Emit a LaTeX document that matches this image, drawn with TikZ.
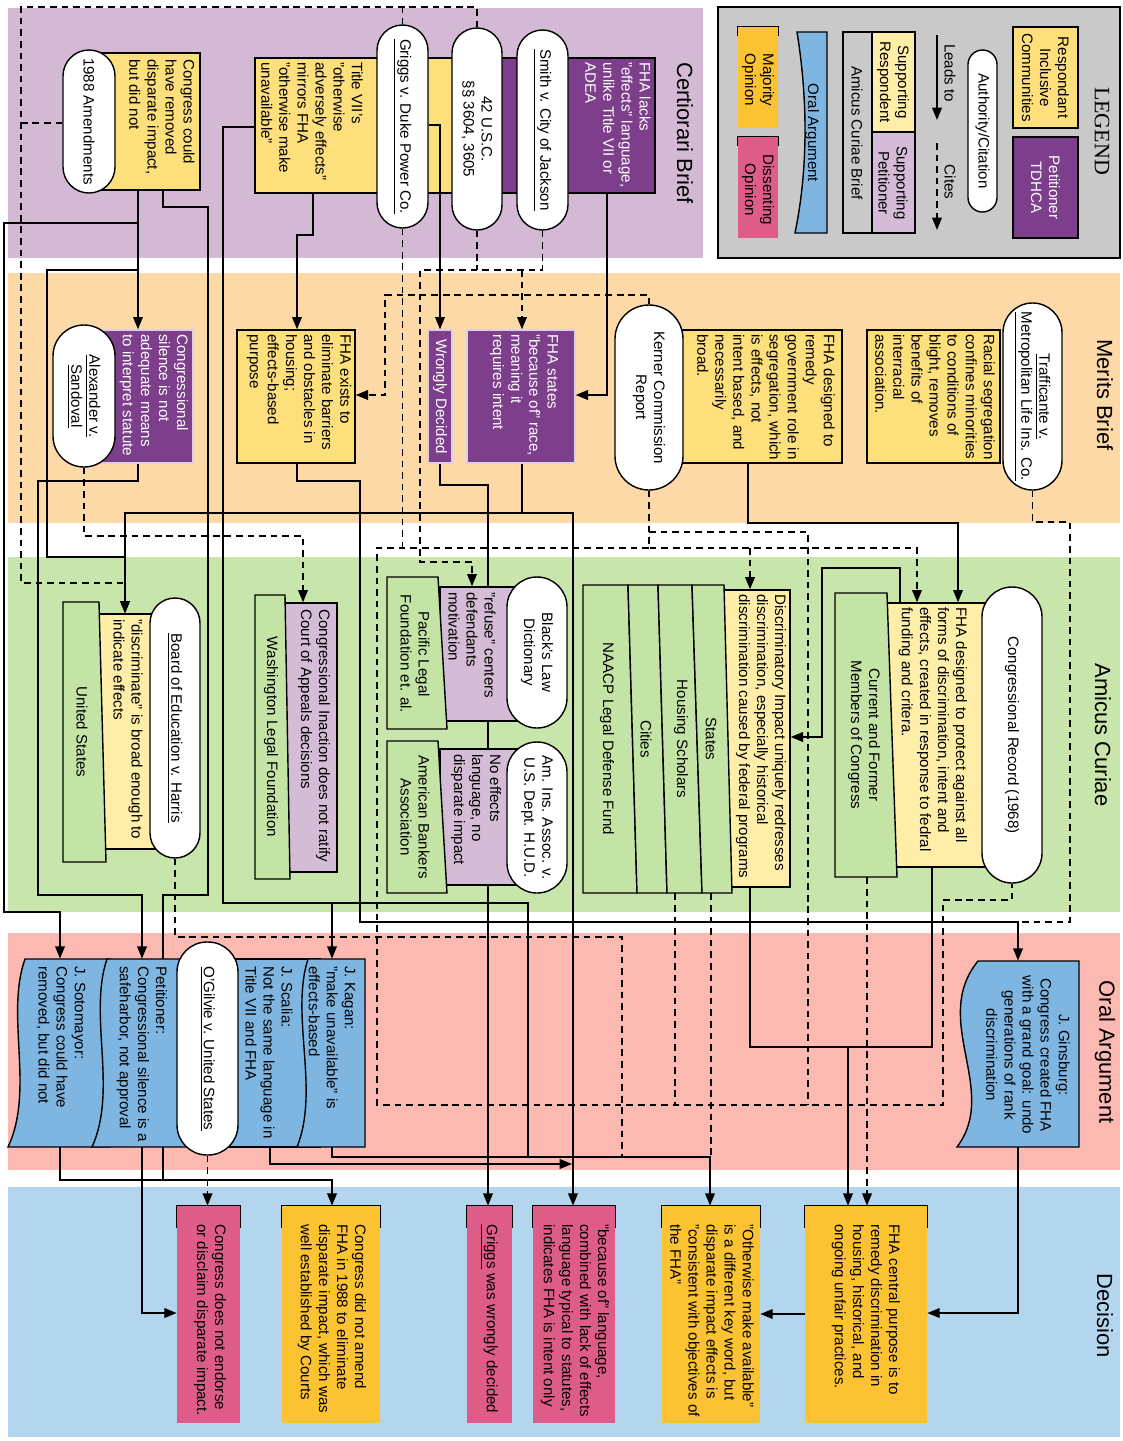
\documentclass[tikz,border=0pt]{standalone}
\usepackage{fontspec}
\setmainfont{Liberation Sans}
\newfontfamily\legfont{Liberation Serif}
\usetikzlibrary{arrows.meta,fit,calc}
\pgfdeclarelayer{bg}\pgfdeclarelayer{edges}\pgfdeclarelayer{front}
\pgfsetlayers{bg,edges,main,front}
\definecolor{certC}{HTML}{D3B9D3}
\definecolor{meritC}{HTML}{FDD9A7}
\definecolor{amicC}{HTML}{C8E6AB}
\definecolor{oralC}{HTML}{FBB9B1}
\definecolor{deciC}{HTML}{B3D5EE}
\definecolor{legC}{HTML}{C9C9C9}
\definecolor{respY}{HTML}{FDDF7B}
\definecolor{petP}{HTML}{7D3E8B}
\definecolor{sRespY}{HTML}{FEEEA7}
\definecolor{sPetP}{HTML}{D5BCD6}
\definecolor{greenB}{HTML}{C4E4A6}
\definecolor{oralB}{HTML}{7EB6E1}
\definecolor{majC}{HTML}{FBC231}
\definecolor{disC}{HTML}{DD5C88}
\newcommand\fs{\fontsize{8.6}{10.3}\selectfont}
\newcommand\decbr[2]{\draw[line width=0.9pt] (#1.north west) ++(0,#2) -- (#1.north west) -- (#1.north east) -- ++(0,#2);}
\begin{document}
\begin{tikzpicture}[x=0.02cm,y=-0.02cm,
  ln/.style={line width=0.9pt},
  arr/.style={ln,-{Triangle[length=7pt,width=5.5pt]}},
  dsh/.style={ln,dash pattern=on 3.8pt off 2.8pt},
  darr/.style={dsh,-{Triangle[length=7pt,width=5.5pt]}},
  box/.style={draw=black,line width=0.8pt,inner sep=0pt},
  resp/.style={box,fill=respY},
  pet/.style={box,fill=petP},
  petw/.style={box,fill=petP,draw=white!75!petP},
  sresp/.style={box,fill=sRespY},
  spet/.style={box,fill=sPetP},
  pillr/.style={box,fill=white,rounded corners=#1},
  ghost/.style={inner sep=0pt},
  mj/.style={inner sep=0pt,fill=majC},
  ds/.style={inner sep=0pt,fill=disC},
  gbox/.style={fill=greenB,draw=black,line width=0.8pt},
  oshape/.style={fill=oralB,draw=black,line width=0.8pt},
  tx/.style={rotate=-90,inner sep=0pt,font=\fs,align=left,anchor=west},
  txc/.style={rotate=-90,inner sep=0pt,font=\fs,align=center,anchor=center},
  ttl/.style={rotate=-90,inner sep=0pt,font=\fontsize{12.5}{15}\selectfont,anchor=center}]
\useasboundingbox (0,0) rectangle (1123,1441);

\begin{pgfonlayer}{bg}
\fill[white] (0,0) rectangle (1123,1441);
\fill[certC] (8,8) rectangle (703,258);
\filldraw[fill=legC,draw=black,line width=1pt] (718,7) rectangle (1120,258);
\fill[meritC] (8,273) rectangle (1120,523);
\fill[amicC] (8,557) rectangle (1120,912);
\fill[oralC] (8,933) rectangle (1120,1170);
\fill[deciC] (8,1187) rectangle (1120,1437);
\end{pgfonlayer}

% titles
\node[ttl] (tcert) at (685,133) {Certiorari Brief};
\node[ttl,font=\legfont\fontsize{12.5}{15}\selectfont] (tleg) at (1102,131) {LEGEND};
\node[ttl] (tmer) at (1105,395) {Merits Brief};
\node[ttl] (tami) at (1103,735) {Amicus Curiae};
\node[ttl] (tora) at (1105,1052) {Oral Argument};
\node[ttl] (tdec) at (1105,1316) {Decision};

% legend
\node[resp,fit={(1013,27)(1078,128)}] (lgresp) {};
\node[txc] (lgresp-t) at (lgresp) {Respondant\\Inclusive\\Communities};
\node[pet,fit={(1013,137)(1078,238)}] (lgpet) {};
\node[txc,text=white] (lgpet-t) at (lgpet) {Petitioner\\TDHCA};
\node[pillr=0.29cm,fit={(968,50)(997,212)}] (lgauth) {};
\node[txc] (lgauth-t) at (lgauth) {Authority/Citation};
\coordinate (lgl1) at (937,35); \coordinate (lgl2) at (937,120);
\draw[arr] (lgl1) -- (lgl2);
\node[txc] (lglt) at (950,73) {Leads to};
\coordinate (lgc1) at (937,143); \coordinate (lgc2) at (937,230);
\draw[darr] (lgc1) -- (lgc2);
\node[txc] (lgct) at (950,182) {Cites};
\node[ghost,fit={(843,32)(915,233)}] (lgami) {};
\filldraw[fill=sRespY,draw=black,line width=0.8pt] (872,32) rectangle (915,132);
\filldraw[fill=sPetP,draw=black,line width=0.8pt] (872,132) rectangle (915,233);
\draw[line width=0.8pt] (843,32) rectangle (915,233);
\node[txc] (lgsr) at (893,82) {Supporting\\Respondent};
\node[txc] (lgsp) at (893,183) {Supporting\\Petitioner};
\node[txc] (lgacb) at (857,133) {Amicus Curiae Brief};
\node[ghost,fit={(795,32)(827,233)}] (lgoral) {};
\filldraw[oshape] (797,32) .. controls (808,100) and (808,170) .. (795,233) -- (827,233) -- (827,32) -- cycle;
\node[txc] (lgoral-t) at (812,133) {Oral Argument};
\node[mj,fit={(738,27)(778,128)}] (lgmaj) {};
\decbr{lgmaj}{9}
\node[txc] (lgmaj-t) at (758,80) {Majority\\Opinion};
\node[ds,fit={(738,137)(778,238)}] (lgdis) {};
\decbr{lgdis}{9}
\node[txc] (lgdis-t) at (758,190) {Dissenting\\Opinion};

% certiorari
\node[resp,fit={(100,53)(200,190)}] (could) {};
\node[tx] (could-t) at (162,59) {Congress could\\have removed\\disparate impact,\\but did not};
\node[pillr=0.52cm,fit={(63,50)(115,193)}] (amend) {};
\node[txc] (amend-t) at (amend) {1988 Amendments};
\node[resp,fit={(255,58)(465,193)}] (titlevii) {};
\node[tx] (titlevii-t) at (312,62) {Title VII's\\"otherwise\\adversely effects"\\mirrors FHA\\"otherwise make\\unavailable"};
\node[pet,fit={(490,58)(655,193)}] (lacks) {};
\node[tx,text=white] (lacks-t) at (618,62) {FHA lacks\\"effects" language,\\unlike Title VII or\\ADEA};
\node[pillr=0.51cm,fit={(377,25)(428,228)}] (griggs) {};
\node[txc] (griggs-t) at (griggs) {\underline{Griggs v. Duke Power Co.}};
\node[pillr=0.5cm,fit={(452,28)(502,230)}] (usc) {};
\node[txc] (usc-t) at (usc) {42 U.S.C.\\§§ 3604, 3605};
\node[pillr=0.51cm,fit={(517,30)(568,230)}] (smith) {};
\node[txc] (smith-t) at (smith) {\underline{Smith v. City of Jackson}};

% merits
\node[petw,fit={(100,330)(193,463)}] (silence) {};
\node[tx,text=white] (silence-t) at (154,334) {Congressional\\silence is not\\adequate means\\to interpret statute};
\node[pillr=0.62cm,fit={(53,325)(115,467)}] (alex) {};
\node[txc] (alex-t) at (alex) {\underline{Alexander v.}\\\underline{Sandoval}};
\node[resp,fit={(237,330)(355,463)}] (exists) {};
\node[tx] (exists-t) at (299,334) {FHA exists to\\eliminate barriers\\and obstacles in\\housing;\\effects-based\\purpose};
\node[petw,fit={(428,330)(452,463)}] (wrongly) {};
\node[txc,text=white] (wrongly-t) at (wrongly) {Wrongly Decided};
\node[petw,fit={(467,330)(575,463)}] (states) {};
\node[tx,text=white] (states-t) at (524,334) {FHA states\\"because of" race,\\meaning it\\requires intent};
\node[resp,fit={(650,330)(842,463)}] (designed) {};
\node[tx] (designed-t) at (766,334) {FHA designed to\\remedy\\government role in\\segregation, which\\is effects, not\\intent based, and\\necessarily\\broad.};
\node[pillr=0.68cm,fit={(615,305)(683,490)}] (kerner) {};
\node[txc] (kerner-t) at (kerner) {Kerner Commission\\Report};
\node[resp,fit={(867,330)(1000,463)}] (racial) {};
\node[tx] (racial-t) at (935,334) {Racial segregation\\confines minorities\\to conditions of\\blight, removes\\benefits of\\interracial\\association.};
\node[pillr=0.59cm,fit={(1003,303)(1062,490)}] (traff) {};
\node[txc] (traff-t) at (traff) {\underline{Trafficante v.}\\\underline{Metropolitan Life Ins. Co.}};

% amicus
\node[sresp,fit={(880,603)(990,867)}] (protect) {};
\node[tx] (protect-t) at (933,607) {FHA designed to protect against all\\forms of discrimination, intent and\\effects, created in response to fedral\\funding and critera.};
\node[ghost,fit={(835,593)(897,877)}] (cfm) {};
\filldraw[gbox] (835,593) -- (887,593) -- (897,877) -- (835,877) -- cycle;
\node[txc] (cfm-t) at (864,735) {Current and Former\\Members of Congress};
\node[pillr=0.6cm,fit={(982,587)(1042,883)}] (crec) {};
\node[txc] (crec-t) at (crec) {Congressional Record (1968)};

\node[sresp,fit={(720,590)(790,887)}] (disc) {};
\node[tx] (disc-t) at (761,594) {Discriminatory Impact uniquely redresses\\discrimination, especially historical\\discrimination caused by federal programs};
\node[ghost,fit={(583,585)(632,893)}] (naacp) {};
\node[ghost,fit={(632,585)(662,893)}] (cities) {};
\node[ghost,fit={(662,585)(697,893)}] (housing) {};
\node[ghost,fit={(697,585)(728,893)}] (statescol) {};
\filldraw[gbox] (583,585) -- (628,585) -- (637,893) -- (583,893) -- cycle;
\filldraw[gbox] (628,585) -- (658,585) -- (667,893) -- (637,893) -- cycle;
\filldraw[gbox] (658,585) -- (692,585) -- (702,893) -- (667,893) -- cycle;
\filldraw[gbox] (692,585) -- (724,585) -- (732,893) -- (702,893) -- cycle;
\node[txc] (naacp-t) at (607,739) {NAACP Legal Defense Fund};
\node[txc] (cities-t) at (646,739) {Cities};
\node[txc] (housing-t) at (681,739) {Housing Scholars};
\node[txc] (statescol-t) at (711,739) {States};

\node[spet,fit={(440,587)(520,721)}] (refuse) {};
\node[tx] (refuse-t) at (472,592) {"refuse" centers\\defendants\\motivation};
\node[ghost,fit={(387,577)(447,729)}] (pacific) {};
\filldraw[gbox] (387,577) -- (438,577) -- (447,729) -- (387,729) -- cycle;
\node[txc] (pacific-t) at (415,654) {Pacific Legal\\Foundation et. al.};
\node[pillr=0.6cm,fit={(507,577)(567,728)}] (blacks) {};
\node[txc] (blacks-t) at (blacks) {Black's Law\\Dictionary};

\node[spet,fit={(440,749)(520,885)}] (noeff) {};
\node[tx] (noeff-t) at (476,754) {No effects\\language, no\\disparate impact};
\node[ghost,fit={(387,741)(447,893)}] (aba) {};
\filldraw[gbox] (387,741) -- (438,741) -- (447,893) -- (387,893) -- cycle;
\node[txc] (aba-t) at (415,817) {American Bankers\\Association};
\node[pillr=0.6cm,fit={(507,742)(567,893)}] (amins) {};
\node[txc] (amins-t) at (amins) {Am. Ins. Assoc. v.\\U.S. Dept. H.U.D.};

\node[spet,fit={(280,603)(337,872)}] (inaction) {};
\node[tx] (inaction-t) at (314,609) {Congressional Inaction does not ratify\\Court of Appeals decisions};
\node[ghost,fit={(255,595)(290,879)}] (wlf) {};
\filldraw[gbox] (255,595) -- (285,595) -- (290,879) -- (255,879) -- cycle;
\node[txc] (wlf-t) at (271,737) {Washington Legal Foundation};

\node[sresp,fit={(95,614)(165,849)}] (discrim) {};
\node[tx] (discrim-t) at (128,619) {"discriminate" is broad enough to\\indicate effects};
\node[ghost,fit={(63,602)(106,862)}] (us) {};
\filldraw[gbox] (63,602) -- (99,602) -- (106,862) -- (63,862) -- cycle;
\node[txc] (us-t) at (82,732) {United States};
\node[pillr=0.5cm,fit={(150,598)(200,858)}] (board) {};
\node[txc] (board-t) at (board) {\underline{Board of Education v. Harris}};

% oral argument
\node[ghost,fit={(8,959)(110,1147)}] (soto) {};
\filldraw[oshape] (25,959) -- (110,959) -- (110,1147) -- (8,1147) .. controls (35,1090) and (5,1015) .. (25,959) -- cycle;
\node[tx] (soto-t) at (61,966) {J. Sotomayor:\\Congress could have\\removed, but did not};
\node[ghost,fit={(92,959)(200,1147)}] (petit) {};
\filldraw[oshape] (107,959) -- (200,959) -- (200,1147) -- (92,1147) .. controls (118,1090) and (88,1015) .. (107,959) -- cycle;
\node[tx] (petit-t) at (142,966) {Petitioner:\\Congressional silence is a\\safeharbor, not approval};
\node[box,fill=oralB,fit={(215,959)(320,1147)}] (scalia) {};
\node[tx] (scalia-t) at (269,966) {J. Scalia:\\Not the same language in\\Title VII and FHA};
\node[ghost,fit={(297,959)(365,1147)}] (kagan) {};
\filldraw[oshape] (308,959) -- (365,959) -- (365,1147) -- (297,1147) .. controls (320,1090) and (290,1015) .. (308,959) -- cycle;
\node[tx] (kagan-t) at (332,966) {J. Kagan:\\"make unavailable" is\\effects-based};
\node[pillr=0.6cm,fit={(177,942)(238,1155)}] (ogilvie) {};
\node[txc] (ogilvie-t) at (ogilvie) {\underline{O'Gilvie v. United States}};
\node[ghost,fit={(957,961)(1079,1147)}] (ginsb) {};
\filldraw[oshape] (978,961) -- (1079,961) -- (1079,1147) -- (957,1147) .. controls (1000,1090) and (930,1020) .. (978,961) -- cycle;
\node[txc] (ginsb-t) at (1028,1055) {J. Ginsburg:\\Congress created FHA\\with a grand goal: undo\\generations of rank\\discrimination};

% decision
\node[mj,fit={(805,1206)(927,1423)}] (central) {};
\decbr{central}{22}
\node[tx] (central-t) at (866,1224) {FHA central purpose is to\\remedy discrimination in\\housing, historical, and\\ongoing unfair practices.};
\node[mj,fit={(662,1206)(760,1423)}] (otherwise) {};
\decbr{otherwise}{22}
\node[tx] (otherwise-t) at (712,1224) {"Otherwise make available"\\is a different key word, but\\disparate impact effects is\\"consistent with objectives of\\the FHA"};
\node[ds,fit={(533,1206)(615,1423)}] (because) {};
\decbr{because}{22}
\node[tx] (because-t) at (575,1224) {"because of" language,\\combined with lack of effects\\language typical to statutes,\\indicates FHA is intent only};
\node[ds,fit={(467,1206)(512,1423)}] (griggsw) {};
\decbr{griggsw}{22}
\node[tx] (griggsw-t) at (489,1224) {\underline{Griggs} was wrongly decided};
\node[mj,fit={(282,1206)(380,1423)}] (notamend) {};
\decbr{notamend}{22}
\node[tx] (notamend-t) at (332,1224) {Congress did not amend\\FHA in 1988 to eliminate\\disparate impact, which was\\well established by Courts};
\node[ds,fit={(177,1206)(240,1423)}] (endorse) {};
\decbr{endorse}{22}
\node[tx] (endorse-t) at (210,1224) {Congress does not endorse\\or disclaim disparate impact.};

% connectors
\begin{pgfonlayer}{edges}
\draw[arr] (could.south -| 138,0) -- (silence.north -| 138,0);
\draw[arr] (could.south -| 138,0) |- (4,223) |- (60,912) -- (soto.north -| 60,0);
\draw[arr] (could.south -| 138,0) |- (47,270) |- (125,557) -- (discrim.north -| 125,0);
\draw[arr] (could.south -| 163,0) |- (208,207) |- (163,895) |- (332,1180) -- (notamend.north -| 332,0);
\draw[ln] (soto.south -| 60,0) |- (163,1180);
\draw[arr] (silence.south -| 138,0) |- (38,481) |- (142,895) -- (petit.north -| 142,0);
\draw[arr] (petit.south -| 142,0) |- (endorse.west |- 0,1313);
\draw[arr] (titlevii.south -| 313,0) |- (297,235) -- (exists.north -| 297,0);
\draw[arr] (titlevii.west |- 0,127) -| (223,903) -| (kagan.north -| 332,0);
\draw[ln] (332,903) -| (528,1157);
\draw[arr] (kagan.south -| 332,0) |- (710,1157) -- (otherwise.north -| 710,0);
\draw[arr] (scalia.south -| 270,0) |- (572,1164);
\draw[arr] (lacks.south -| 607,0) |- (states.east |- 0,395);
\draw[arr] (wrongly.south -| 440,0) |- (488,485) -- (griggsw.north -| 488,0);
\draw[arr] (states.south -| 522,0) |- (573,513) -- (because.north -| 573,0);
\draw[arr] (states.south -| 522,0) |- (125,513) -- (discrim.north -| 125,0);
\draw[arr] (exists.south -| 297,0) |- (360,481) |- (1018,922) -- (ginsb.north -| 1018,0);
\draw[arr] (designed.south -| 748,0) |- (958,523) -- (protect.north -| 958,0);
\draw[arr] (protect.north -| 900,0) |- (822,568) |- (disc.east |- 0,737);
\draw[arr] (protect.south -| 932,0) |- (848,1047) -- (central.north -| 848,0);
\draw[ln] (disc.south -| 750,0) |- (848,1047);
\draw[arr] (ginsb.south -| 1018,0) |- (central.east |- 0,1313);
\draw[arr] (central.west |- 0,1314) -- (otherwise.east |- 0,1314);
% dashed
\draw[dsh] (usc.north) |- (21,7) |- (125,583);
\draw[dsh] (griggs.north) -- (griggs.north |- 0,7);
\draw[dsh] (amend.west |- 0,123) -- (21,123);
\draw[darr] (alex.south) |- (303,536) -- (inaction.north -| 303,0);
\draw[darr] (smith.south) |- (420,270) |- (472,562) -- (refuse.north -| 472,0);
\draw[dsh] (usc.south) -- (usc.south |- 0,270);
\draw[darr] (522,270) -- (states.north -| 522,0);
\draw[darr] (kerner.north) |- (385,295) |- (exists.east |- 0,395);
\draw[darr] (kerner.south) |- (917,548) -- (protect.north -| 917,0);
\draw[dsh] (649,532) -| (808,1105);
\draw[darr] (750,548) -- (disc.north -| 750,0);
\draw[dsh] (649,548) -| (377,1105) -| (943,900) -| (crec.south);
\draw[dsh] (griggs.south) -- (griggs.south |- 0,548);
\draw[dsh] (traff.south) |- (1070,522) |- (1018,922);
\draw[darr] (cfm.south -| 867,0) -- (central.north -| 867,0);
\draw[dsh] (housing.south -| 675,0) -- (675,1105);
\draw[dsh] (statescol.south -| 711,0) -- (711,1157);
\draw[dsh] (board.south) |- (622,937) -- (622,1157);
\draw[darr] (ogilvie.south) -- (endorse.north -| ogilvie.south);
\end{pgfonlayer}
\begin{pgfonlayer}{front}
\draw[arr] (griggs.east |- 0,125) -| (wrongly.north -| 440,0);
\end{pgfonlayer}
\end{tikzpicture}
\end{document}
